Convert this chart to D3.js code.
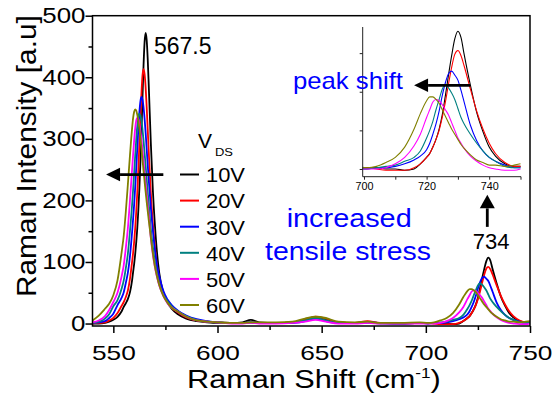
<!DOCTYPE html>
<html>
<head>
<meta charset="utf-8">
<script src="https://cdn.jsdelivr.net/npm/d3@7"></script>
<style>
  body { margin: 0; background: #fff; }
  svg text { font-family: "Liberation Sans", Arial, sans-serif; }
</style>
</head>
<body>
<svg id="chart" width="555" height="396"></svg>
<script>
// Raman shift grid (cm-1), shared by every curve
const shift = [540, 543, 546, 548, 550, 552, 554, 555, 556, 557, 558, 559, 559.5, 560, 560.5, 561, 561.5, 562, 562.5, 563, 563.5, 564, 564.5, 565, 565.5, 566, 566.5, 567, 568, 569, 570, 571, 572, 574, 576, 578, 581, 585, 590, 595, 600,
  607, 612, 616, 620, 628, 636, 642, 647, 652, 658, 666, 672, 678, 688, 697,
  701, 704, 707, 710, 713, 716, 718, 720, 721, 722, 723, 724, 725, 726, 727, 728, 729, 730, 731, 732, 734, 736, 738, 740, 742, 745, 748, 750];

// intensities, one list per drain-source voltage
const v10 = [0, 0, 1, 3, 6, 11, 20, 27, 33, 40, 51, 70, 84, 97, 113, 132, 155, 184, 220, 263, 313, 367, 419, 457, 472, 461, 430, 387, 293, 215, 158, 114, 83, 50, 34, 24, 15, 8, 4, 2, 1,
  1, 2, 6, 2, 1, 2, 5, 10, 7, 2, 1, 2, 1, 1, 1,
  1, 1, 0, 0, -1, 0, 4, 9, 12, 17, 23, 31, 42, 57, 73, 88, 101, 107, 102, 89, 65, 44, 29, 17, 10, 4, 2, 2];
const v20 = [0, 1, 2, 5, 9, 17, 29, 35, 43, 54, 73, 100, 115, 133, 155, 182, 213, 250, 292, 335, 374, 403, 413, 405, 384, 352, 316, 279, 212, 161, 124, 93, 74, 49, 35, 26, 18, 10, 5, 3, 2,
  1, 1, 2, 1, 1, 2, 6, 11, 8, 2, 1, 4, 1, 0, 1,
  1, 0, -1, -1, -1, 1, 4, 9, 12, 17, 23, 30, 40, 52, 66, 79, 89, 92, 88, 80, 62, 45, 31, 20, 12, 5, 2, 2];
const v30 = [1, 2, 4, 9, 16, 30, 42, 51, 66, 83, 110, 148, 170, 194, 222, 253, 285, 316, 343, 361, 368, 364, 351, 333, 310, 284, 258, 233, 188, 151, 119, 94, 78, 53, 39, 30, 21, 13, 7, 4, 2,
  1, 1, 2, 1, 1, 1, 4, 8, 4, 1, 1, 2, 1, 0, 1,
  0, 1, 1, 2, 4, 7, 10, 15, 20, 27, 35, 45, 57, 67, 74, 76, 73, 69, 61, 52, 34, 22, 14, 9, 6, 3, 1, 1];
const v40 = [1, 3, 8, 15, 28, 38, 57, 70, 90, 114, 151, 193, 218, 245, 273, 299, 321, 336, 341, 338, 329, 315, 297, 277, 256, 235, 214, 195, 154, 124, 99, 80, 65, 47, 36, 28, 20, 12, 6, 3, 2,
  1, 1, 2, 1, 1, 2, 5, 9, 5, 1, 1, 2, 0, 0, 1,
  0, 1, 2, 3, 6, 9, 14, 24, 30, 37, 46, 54, 62, 65, 63, 59, 54, 47, 40, 35, 27, 20, 14, 9, 6, 2, 1, 1];
const v50 = [2, 5, 12, 22, 35, 50, 77, 95, 123, 156, 201, 250, 275, 298, 317, 330, 334, 332, 324, 313, 299, 282, 264, 245, 226, 209, 192, 176, 139, 111, 91, 75, 62, 45, 33, 26, 19, 11, 5, 3, 2,
  0, 0, 1, 0, 0, 1, 3, 6, 3, 0, 0, 1, 0, 0, 0,
  0, 0, 1, 4, 9, 18, 27, 40, 46, 52, 54, 53, 50, 46, 42, 36, 30, 24, 20, 16, 10, 6, 3, 1, 0, -1, -1, 0];
const v60 = [5, 13, 24, 32, 46, 70, 116, 143, 182, 227, 274, 317, 334, 344, 348, 346, 339, 329, 316, 301, 284, 266, 248, 231, 214, 198, 183, 168, 140, 114, 92, 76, 63, 45, 34, 26, 19, 11, 5, 3, 2,
  1, 1, 2, 2, 2, 3, 8, 11, 9, 3, 2, 3, 1, 1, 2,
  1, 2, 5, 9, 17, 31, 43, 53, 56, 56, 54, 51, 46, 41, 36, 31, 27, 23, 19, 16, 11, 7, 5, 3, 3, 2, 3, 4];

const seriesNames = ["10V", "20V", "30V", "40V", "50V", "60V"];
const seriesValues = [v10, v20, v30, v40, v50, v60];
const seriesColors = ["#000000", "#ff0000", "#0000ff", "#008080", "#ff00ff", "#808000"];

const xTicks = [550, 600, 650, 700, 750];
const xMinor = [575, 625, 675, 725];
const yTicks = [0, 100, 200, 300, 400, 500];
const yMinor = [50, 150, 250, 350, 450];
const insetXTicks = [700, 710, 720, 730, 740, 750];
const insetXLabels = [700, 720, 740];
const insetYTicks = [0, 30, 60, 90];

const svg = d3.select("#chart");
svg.append("rect").attr("width", 555).attr("height", 396).attr("fill", "#fff");

// main plot scales
const x = d3.scaleLinear().domain([540, 750]).range([92.5, 530]);
const y = d3.scaleLinear().domain([-4, 500]).range([326, 15.7]);

// inset (zoom on the 734 peak)
const xi = d3.scaleLinear().domain([700, 750]).range([364, 520.5]);
const yi = d3.scaleLinear().domain([-6, 110.3]).range([176.7, 27]);

const defs = svg.append("defs");
defs.append("clipPath").attr("id", "mainClip").append("rect")
  .attr("x", 92.5).attr("y", 15.7).attr("width", 437.5).attr("height", 310.3);
defs.append("clipPath").attr("id", "insetClip").append("rect")
  .attr("x", 362.7).attr("y", 27).attr("width", 158.5).attr("height", 149.7);

function widen(sel, perChar) {
  sel.each(function () {
    const t = d3.select(this);
    const n = t.text().length;
    if (n) t.attr("textLength", n * perChar).attr("lengthAdjust", "spacingAndGlyphs");
  });
}

// curves
const mainLine = d3.line().x(d => x(d[0])).y(d => y(d[1])).curve(d3.curveMonotoneX);
const insetLine = d3.line().x(d => xi(d[0])).y(d => yi(d[1])).curve(d3.curveMonotoneX);

const curves = svg.append("g").attr("clip-path", "url(#mainClip)");
seriesValues.forEach((vals, i) => {
  curves.append("path")
    .attr("d", mainLine(d3.zip(shift, vals)))
    .attr("fill", "none")
    .attr("stroke", seriesColors[i])
    .attr("stroke-width", 1.8);
});

// axes
const xAxis = svg.append("g").attr("transform", "translate(0,326)")
  .call(d3.axisBottom(x).tickValues(xTicks).tickSize(7).tickPadding(12).tickFormat(d3.format("d")));
svg.append("g").attr("transform", "translate(0,326)")
  .call(d3.axisBottom(x).tickValues(xMinor).tickSize(4).tickFormat(""));
const yAxis = svg.append("g").attr("transform", "translate(92.5,0)")
  .call(d3.axisLeft(y).tickValues(yTicks).tickSize(7).tickPadding(0).tickFormat(d3.format("d")));
svg.append("g").attr("transform", "translate(92.5,0)")
  .call(d3.axisLeft(y).tickValues(yMinor).tickSize(4).tickFormat(""));
svg.selectAll(".domain").remove();
svg.selectAll(".tick line").attr("stroke", "#000").attr("stroke-width", 1.5);
xAxis.selectAll("text").style("font-size", "21px").attr("fill", "#000");
yAxis.selectAll("text").style("font-size", "21.5px").attr("fill", "#000");
widen(xAxis.selectAll("text"), 14.6);
widen(yAxis.selectAll("text"), 14.4);

svg.append("rect")
  .attr("x", 92.5).attr("y", 15.7).attr("width", 437.5).attr("height", 310.3)
  .attr("fill", "none").attr("stroke", "#000").attr("stroke-width", 1.5);

// axis titles
const xTitle = svg.append("g");
const xt = xTitle.append("text").style("font-size", "25px").attr("fill", "#000");
xt.append("tspan").text("Raman Shift (cm");
xt.append("tspan").attr("dy", -10).style("font-size", "14px").text("-1");
xt.append("tspan").attr("dy", 10).text(")");
xTitle.attr("transform", `translate(187,388) scale(${254 / xt.node().getBBox().width},1.04)`);

const yTitle = svg.append("g");
const yt = yTitle.append("text").style("font-size", "27px").attr("fill", "#000").text("Raman Intensity [a.u]");
yTitle.attr("transform", `translate(36,297) rotate(-90) scale(${282 / yt.node().getBBox().width},1)`);

// inset
const inset = svg.append("g");
const insetCurves = inset.append("g").attr("clip-path", "url(#insetClip)");
seriesValues.forEach((vals, i) => {
  const rows = d3.zip(shift, vals).filter(d => d[0] >= 695);
  insetCurves.append("path")
    .attr("d", insetLine(rows))
    .attr("fill", "none")
    .attr("stroke", seriesColors[i])
    .attr("stroke-width", 1.1);
});
const ixAxis = inset.append("g").attr("transform", "translate(0,176.7)")
  .call(d3.axisBottom(xi).tickValues(insetXTicks).tickSize(3).tickPadding(3)
    .tickFormat(d => insetXLabels.includes(d) ? d : ""));
inset.append("g").attr("transform", "translate(362.7,0)")
  .call(d3.axisLeft(yi).tickValues(insetYTicks).tickSize(3).tickFormat(""));
inset.selectAll(".domain").remove();
inset.selectAll(".tick line").attr("stroke", "#222").attr("stroke-width", 1);
ixAxis.selectAll("text").style("font-size", "10px").attr("fill", "#000");
widen(ixAxis.selectAll("text"), 6);
inset.append("line").attr("x1", 362.7).attr("x2", 521).attr("y1", 176.7).attr("y2", 176.7)
  .attr("stroke", "#222").attr("stroke-width", 1);
inset.append("line").attr("x1", 362.7).attr("x2", 362.7).attr("y1", 27).attr("y2", 176.7)
  .attr("stroke", "#222").attr("stroke-width", 1);

// legend
const legend = svg.append("g");
legend.append("text").attr("x", 198).attr("y", 148).style("font-size", "21px").text("V");
legend.append("text").attr("x", 215).attr("y", 156).style("font-size", "10.5px")
  .attr("textLength", 18).attr("lengthAdjust", "spacingAndGlyphs").text("DS");
seriesNames.forEach((name, i) => {
  const ly = 174.5 + i * 26.1;
  legend.append("line").attr("x1", 180).attr("x2", 199).attr("y1", ly).attr("y2", ly)
    .attr("stroke", seriesColors[i]).attr("stroke-width", 2);
  legend.append("text").attr("x", 206).attr("y", ly + 7.8).style("font-size", "21px")
    .attr("textLength", 39).attr("lengthAdjust", "spacingAndGlyphs").text(name);
});

// arrows
function arrow(x1, y1, x2, y2, head, half) {
  const a = Math.atan2(y2 - y1, x2 - x1);
  const bx = x2 - head * Math.cos(a), by = y2 - head * Math.sin(a);
  svg.append("line").attr("x1", x1).attr("y1", y1).attr("x2", bx).attr("y2", by)
    .attr("stroke", "#000").attr("stroke-width", 2.8);
  const px = -Math.sin(a) * half, py = Math.cos(a) * half;
  svg.append("path")
    .attr("d", `M${x2},${y2}L${bx + px},${by + py}L${bx - px},${by - py}Z`)
    .attr("fill", "#000");
}
arrow(x(574), y(242), x(546.5), y(242), 14, 6.7);
arrow(xi(733.9), yi(65), xi(716), yi(65), 14, 6.7);
arrow(x(729.5), y(157), x(729.5), y(209), 13.5, 7.5);

// annotations
svg.append("text").attr("x", 154).attr("y", 54).style("font-size", "23px").text("567.5");
svg.append("text").attr("x", 472.7).attr("y", 249.3).style("font-size", "22px").text("734");
svg.append("text").attr("x", 293).attr("y", 89).style("font-size", "24px").attr("fill", "#0000ff")
  .attr("textLength", 110).attr("lengthAdjust", "spacingAndGlyphs").text("peak shift");
svg.append("text").attr("x", 286.7).attr("y", 227).style("font-size", "26px").attr("fill", "#0000ff")
  .attr("textLength", 125).attr("lengthAdjust", "spacingAndGlyphs").text("increased");
svg.append("text").attr("x", 265).attr("y", 260).style("font-size", "26px").attr("fill", "#0000ff")
  .attr("textLength", 166).attr("lengthAdjust", "spacingAndGlyphs").text("tensile stress");
</script>
</body>
</html>
